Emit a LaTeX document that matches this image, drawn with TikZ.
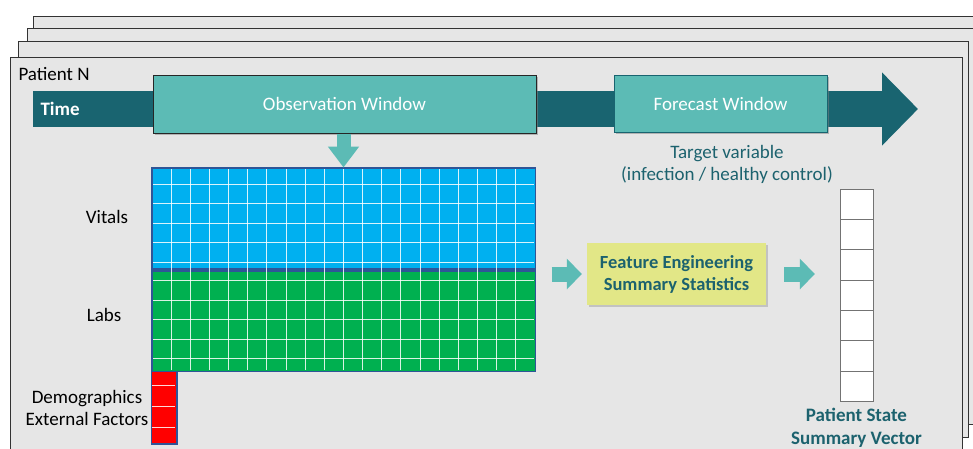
\documentclass[tikz,border=0pt]{standalone}
\usepackage{fontspec}
\setmainfont{Carlito}
\usetikzlibrary{shapes,arrows.meta,positioning,shadows}
\definecolor{pagegray}{RGB}{230,230,230}
\definecolor{timecolor}{RGB}{25,100,112}
\definecolor{windowcolor}{RGB}{92,187,181}
\definecolor{tealtext}{RGB}{28,98,110}
\definecolor{vitalscolor}{RGB}{0,176,240}
\definecolor{labscolor}{RGB}{0,176,80}
\definecolor{gridborder}{RGB}{47,85,151}
\definecolor{featurecolor}{RGB}{226,231,135}

\begin{document}
\begin{tikzpicture}[
    x=1pt, y=-1pt,
    page/.style={draw=black!80, fill=pagegray, line width=0.9pt},
    window/.style={rectangle, fill=windowcolor, text=white, line width=1pt, font=\fontsize{19}{22}\selectfont, drop shadow={opacity=0.5, shadow xshift=2pt, shadow yshift=-2pt}},
    block/.style={rectangle, draw=gridborder, line width=1pt, inner sep=0pt},
    cellline/.style={white, line width=1pt, opacity=0.85},
    cell/.style={rectangle, draw=black!55, fill=white, minimum width=33pt, minimum height=30.3pt, inner sep=0pt},
    sidetext/.style={font=\fontsize{19}{22}\selectfont, align=center},
    bluearrow/.style={line width=15pt, windowcolor, -{Triangle[length=15pt,width=30pt]}}
]
\useasboundingbox (0,0) rectangle (973,448);

% Stacked patients
\draw[page] (33,16) rectangle (990,412);
\draw[page] (27,28) rectangle (990,424);
\draw[page] (18,41) rectangle (968,437);
\draw[page] (10,57) rectangle (962,470);
\node[sidetext, anchor=west] (patient) at (15,74) {Patient N};

% Time line
\draw[line width=36pt, timecolor, -{Triangle[length=36pt,width=71pt]}] (33,109) -- (918,109);
\node[anchor=west, text=white, font=\bfseries\fontsize{19}{22}\selectfont] (time) at (37,109) {Time};

% Windows
\node[window, draw=black!85, minimum width=383pt, minimum height=58pt] (obs) at (344.5,104) {Observation Window};
\node[window, draw=timecolor, minimum width=213pt, minimum height=57pt] (forecast) at (720.5,103.5) {Forecast Window};
\node[sidetext, text=tealtext] (target) at (727,164.5) {Target variable\\(infection / healthy control)};

% Observation data
\node[block, fill=vitalscolor, minimum width=383pt, minimum height=100pt] (vitals) at (343.5,218) {};
\node[block, fill=labscolor, minimum width=383pt, minimum height=100pt] (labs) at (343.5,321) {};
\fill[gridborder] (vitals.south west) rectangle (labs.north east);
\node[block, fill=red, minimum width=25pt, minimum height=72pt, anchor=north west] (demo) at (151,371) {};

\foreach \i in {1,...,19}
    \draw[cellline] (152+19.15*\i,169) -- (152+19.15*\i,370);
\foreach \j in {0,...,4} {
    \draw[cellline] (153,184+19.5*\j) -- (534,184+19.5*\j);
    \draw[cellline] (153,280.5+19.5*\j) -- (534,280.5+19.5*\j);
}
\foreach \j in {0,1,2}
    \draw[cellline] (152,385+21*\j) -- (175,385+21*\j);
\draw[gridborder, line width=1pt] (vitals.north west) rectangle (labs.south east);
\draw[gridborder, line width=1pt] (demo.north west) rectangle (demo.south east);

\node[sidetext] (vitalslabel) at (107,217) {Vitals};
\node[sidetext] (labslabel) at (104,315) {Labs};
\node[sidetext, anchor=north] (demolabel) at (87,386.5) {Demographics\\External Factors};

% Feature engineering
\node[rectangle, fill=featurecolor, text=tealtext, font=\bfseries\fontsize{18.5}{22}\selectfont, align=center, minimum width=179pt, minimum height=62pt, drop shadow={opacity=0.35, shadow xshift=2pt, shadow yshift=-2pt}] (feature) at (676.5,274) {Feature Engineering\\Summary Statistics};

% Summary vector
\foreach \i in {0,...,6}
    \node[cell] (v\i) at (856.5,204.1+30.3*\i) {};
\node[sidetext, text=tealtext, font=\bfseries\fontsize{19}{23}\selectfont, anchor=north] (statevec) at ([yshift=-3pt]v6.south) {Patient State\\Summary Vector};

% Arrows
\draw[line width=14pt, windowcolor, -{Triangle[length=21pt,width=30pt]}] (obs.south -| vitals.north) -- (vitals.north);
\draw[bluearrow, shorten <=16pt, shorten >=5pt] (feature.west -| labs.east) -- (feature.west);
\draw[bluearrow, shorten <=18pt, shorten >=25pt] (feature.east) -- (feature.east -| v0.west);

\end{tikzpicture}
\end{document}
